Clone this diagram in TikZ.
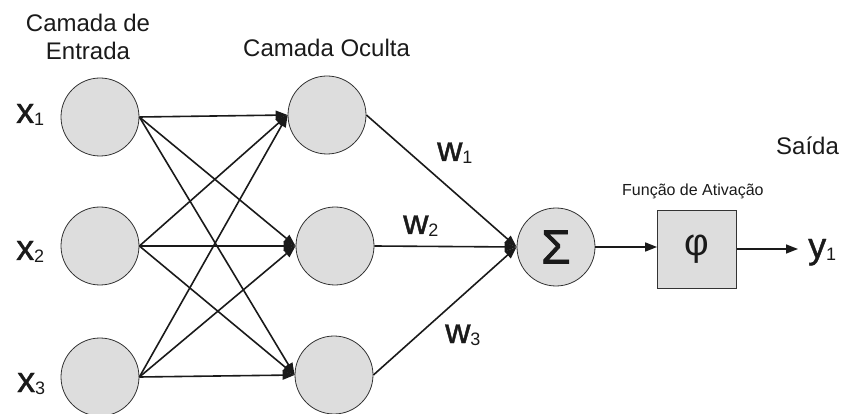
\documentclass[tikz,border=0pt]{standalone}
\usepackage{fontspec}
\setmainfont{Liberation Sans}
\newfontfamily\heavyfont[FakeBold=1.2]{Liberation Sans}
\usetikzlibrary{arrows.meta}
\definecolor{nodefill}{HTML}{DDDDDD}
\definecolor{nodeline}{HTML}{333333}
\definecolor{ink}{HTML}{1A1A1A}
\newcommand\varlbl[3]{{\heavyfont\fontsize{#1}{#1}\selectfont #2}\raisebox{-2.5pt}{\fontsize{18}{18}\selectfont #3}}
\begin{document}
\begin{tikzpicture}[x=1pt,y=-1pt,
  neuron/.style={circle,draw=nodeline,line width=0.8pt,fill=nodefill,minimum size=78pt,inner sep=0pt},
  actbox/.style={rectangle,draw=nodeline,line width=0.8pt,fill=nodefill,minimum width=79pt,minimum height=78pt,inner sep=0pt},
  arr/.style={line width=1.6pt,draw=ink,-{Triangle[length=12pt,width=9pt]}},
  txt/.style={inner sep=0pt,anchor=base west,text=ink},
  head/.style={txt,font=\fontsize{24}{28}\selectfont}]
\useasboundingbox (0,0) rectangle (844,414);
% input layer
\node[neuron] (i1) at (100,117) {};
\node[neuron] (i2) at (100,246) {};
\node[neuron] (i3) at (100,377) {};
% hidden layer
\node[neuron] (h1) at (327,115) {};
\node[neuron] (h2) at (335,246) {};
\node[neuron] (h3) at (334,375) {};
% sum
\node[neuron,font=\heavyfont\fontsize{48}{48}\selectfont,text=ink] (s) at (556,247) {Σ};
% activation
\node[actbox,font=\fontsize{38}{38}\selectfont,text=ink] (f) at (697,249) {φ};
\coordinate (yend) at (798,249);
% connections input -> hidden
\foreach \i in {1,2,3}{\foreach \j in {1,2,3}{\draw[arr] (i\i.east) -- (h\j.west);}}
% hidden -> sum
\foreach \j in {1,2,3}{\draw[arr] (h\j.east) -- (s.west);}
\draw[arr] (s.east) -- (s.east -| f.west);
\draw[arr] (f.east) -- (yend);
% labels
\node[head,anchor=base,align=center] (lin) at (88,60) {Camada de\\Entrada};
\node[head] (lhid) at (243,57) {Camada Oculta};
\node[head] (lout) at (776,155) {Saída};
\node[txt,font=\fontsize{16}{16}\selectfont] (lact) at (622,196) {Função de Ativação};
\node[txt] (x1) at (16,123) {\varlbl{36}{x}{1}};
\node[txt] (x2) at (16,260) {\varlbl{36}{x}{2}};
\node[txt] (x3) at (17,392) {\varlbl{36}{x}{3}};
\node[txt] (w1) at (437,161) {\varlbl{35}{w}{1}};
\node[txt] (w2) at (403,234) {\varlbl{35}{w}{2}};
\node[txt] (w3) at (445,343) {\varlbl{35}{w}{3}};
\node[txt] (y1) at (808,258) {\varlbl{36}{y}{1}};
\end{tikzpicture}
\end{document}
